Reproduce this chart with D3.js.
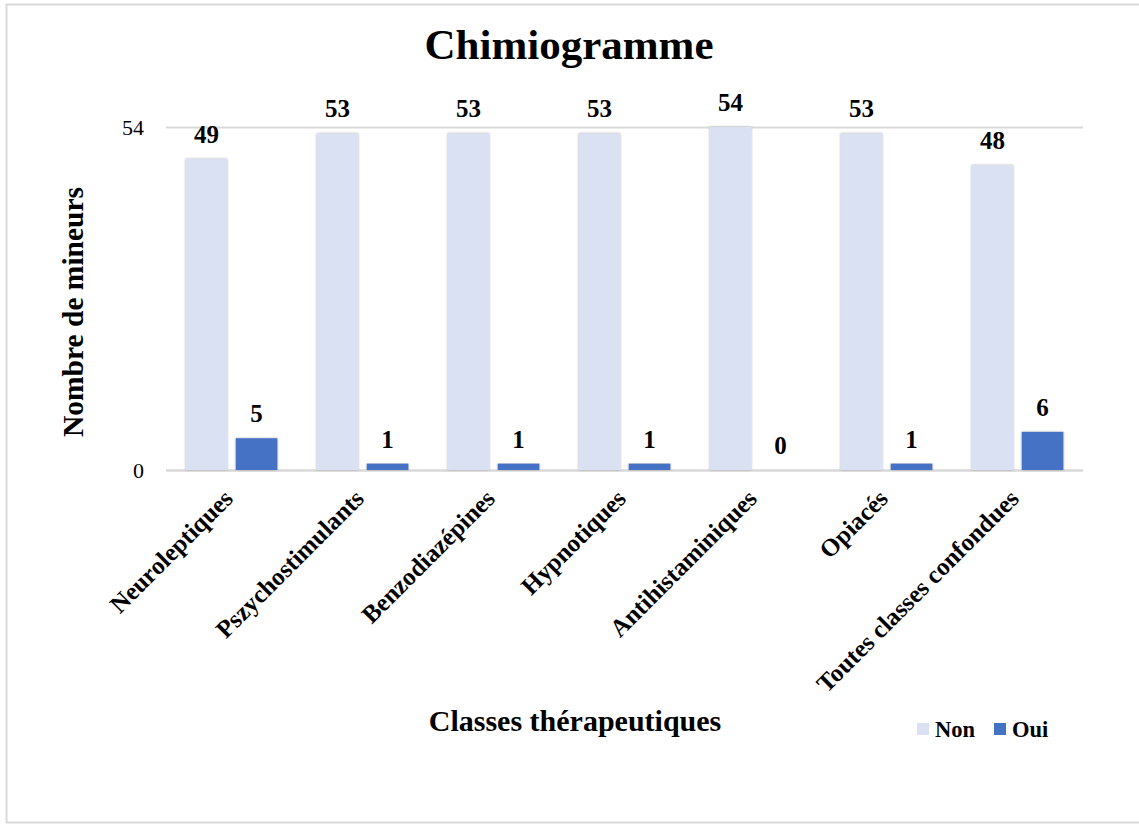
<!DOCTYPE html>
<html>
<head>
<meta charset="utf-8">
<script src="https://cdn.jsdelivr.net/npm/d3@7"></script>
<style>
  body { margin: 0; background: #fff; }
  text { font-family: "Liberation Serif", "Times New Roman", serif; fill: #000; }
</style>
</head>
<body>
<script>
const w = 1139;
const h = 825;

const categories = ["Neuroleptiques", "Pszychostimulants", "Benzodiazépines", "Hypnotiques",
                    "Antihistaminiques", "Opiacés", "Toutes classes confondues"];
const seriesNames = ["Non", "Oui"];
const nonValues = [49, 53, 53, 53, 54, 53, 48];
const ouiValues = [5, 1, 1, 1, 0, 1, 6];
const yTicks = [0, 54];
const colors = ["#d9e1f2", "#4472c4"];

const plotLeft = 166, plotRight = 1083, plotTop = 127, plotBottom = 470;

const rows = categories.map((c, i) => ({cat: c, values: [nonValues[i], ouiValues[i]]}));

const xScale = d3.scaleBand()
                 .domain(categories)
                 .range([plotLeft, plotRight])
                 .paddingInner(0.3)
                 .paddingOuter(0.15);

const xInner = d3.scaleBand()
                 .domain(seriesNames)
                 .range([0, xScale.bandwidth()])
                 .paddingInner(0.17);

const yScale = d3.scaleLinear()
                 .domain([0, 54])
                 .range([plotBottom, plotTop]);

const svg = d3.select("body")
              .append("svg")
              .attr("width", w)
              .attr("height", h);

const defs = svg.append("defs");
defs.append("filter")
    .attr("id", "shadow")
    .attr("x", "-20%").attr("y", "-5%").attr("width", "140%").attr("height", "110%")
    .append("feDropShadow")
    .attr("dx", 0).attr("dy", 0)
    .attr("stdDeviation", 1.2)
    .attr("flood-color", "#777")
    .attr("flood-opacity", 0.6);

// outer frame
svg.append("rect")
   .attr("x", 6.5).attr("y", 4.5)
   .attr("width", 1140).attr("height", 818)
   .attr("fill", "none")
   .attr("stroke", "#d9d9d9")
   .attr("stroke-width", 2);

// gridlines
const yAxis = d3.axisLeft(yScale)
                .tickValues(yTicks)
                .tickSize(-(plotRight - plotLeft))
                .tickPadding(22);

const gy = svg.append("g")
              .attr("transform", "translate(" + plotLeft + ",0)")
              .call(yAxis);
gy.select(".domain").remove();
gy.selectAll(".tick line")
  .attr("stroke", "#d9d9d9")
  .attr("stroke-width", d => d === 0 ? 2.5 : 2);
gy.selectAll(".tick text")
  .style("font-size", "22px")
  .attr("font-family", "Liberation Serif");

// bars
const groups = svg.selectAll("g.cat")
    .data(rows)
    .enter()
    .append("g")
    .attr("class", "cat")
    .attr("transform", d => "translate(" + xScale(d.cat) + ",0)");

groups.selectAll("rect")
    .data(d => d.values.map((v, j) => ({name: seriesNames[j], v: v, j: j})))
    .enter()
    .append("rect")
    .attr("x", d => xInner(d.name))
    .attr("y", d => yScale(d.v))
    .attr("width", xInner.bandwidth())
    .attr("height", d => plotBottom - yScale(d.v))
    .attr("fill", d => colors[d.j])
    .attr("filter", d => d.v > 0 ? "url(#shadow)" : null);

groups.selectAll("text.val")
    .data(d => d.values.map((v, j) => ({name: seriesNames[j], v: v})))
    .enter()
    .append("text")
    .attr("class", "val")
    .attr("x", d => xInner(d.name) + xInner.bandwidth() / 2)
    .attr("y", d => yScale(d.v) - 16)
    .attr("text-anchor", "middle")
    .style("font-size", "25px")
    .style("font-weight", "bold")
    .text(d => d.v);

// category labels
svg.append("g")
   .selectAll("text")
   .data(categories)
   .enter()
   .append("text")
   .attr("transform", d => "translate(" + (xScale(d) + xScale.bandwidth() / 2 + 3) + "," + 500 + ") rotate(-45)")
   .attr("text-anchor", "end")
   .style("font-size", "25px")
   .style("font-weight", "bold")
   .text(d => d);

// title
svg.append("text")
   .attr("x", 569)
   .attr("y", 59)
   .attr("text-anchor", "middle")
   .style("font-size", "43px")
   .style("font-weight", "bold")
   .text("Chimiogramme");

// axis titles
svg.append("text")
   .attr("transform", "translate(83,312) rotate(-90)")
   .attr("text-anchor", "middle")
   .style("font-size", "29.5px")
   .style("font-weight", "bold")
   .text("Nombre de mineurs");

svg.append("text")
   .attr("x", 575)
   .attr("y", 731)
   .attr("text-anchor", "middle")
   .style("font-size", "30px")
   .style("font-weight", "bold")
   .text("Classes thérapeutiques");

// legend
const legendX = [917, 994];
const legend = svg.selectAll("g.legend")
    .data(seriesNames)
    .enter()
    .append("g")
    .attr("class", "legend")
    .attr("transform", (d, i) => "translate(" + legendX[i] + ",723)");

legend.append("rect")
      .attr("width", 12).attr("height", 12)
      .attr("fill", (d, i) => colors[i]);

legend.append("text")
      .attr("x", 18)
      .attr("y", 14)
      .style("font-size", "22.5px")
      .style("font-weight", "bold")
      .text(d => d);
</script>
</body>
</html>
